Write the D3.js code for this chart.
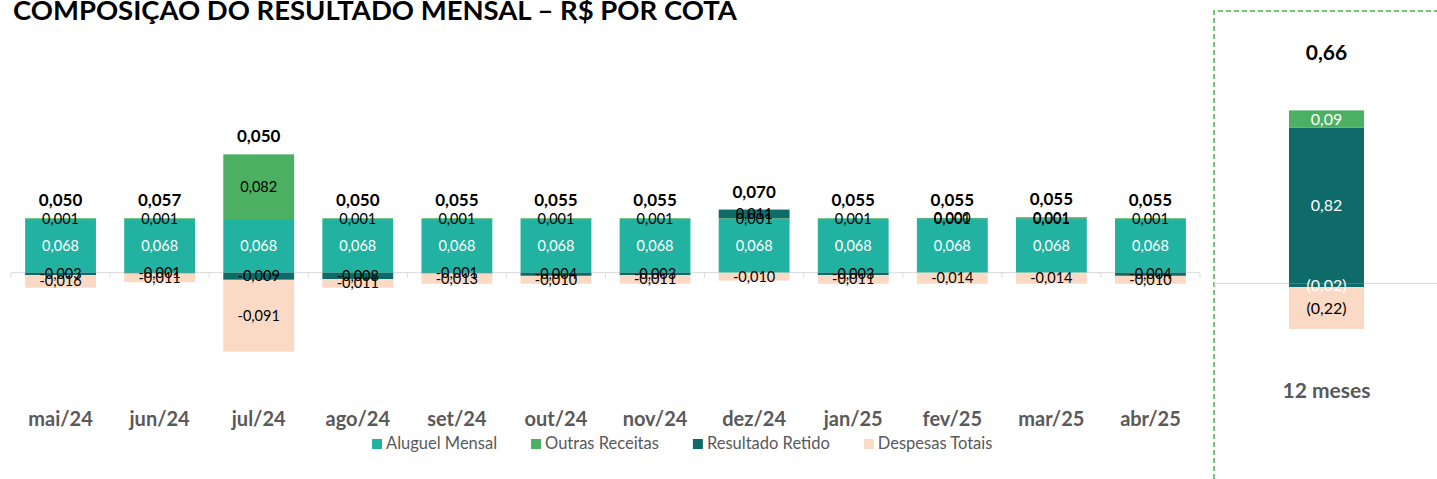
<!DOCTYPE html>
<html>
<head>
<meta charset="utf-8">
<script src="https://cdn.jsdelivr.net/npm/d3@7"></script>
<style>
    body { margin: 0; background: #fff; }
    text { font-family: Lato, 'Noto Sans', sans-serif; }
</style>
</head>
<body>
<svg id="chart" width="1437" height="479"></svg>
<script>
const months = ["mai/24", "jun/24", "jul/24", "ago/24", "set/24", "out/24", "nov/24", "dez/24", "jan/25", "fev/25", "mar/25", "abr/25"];
const seriesNames = ["Aluguel Mensal", "Outras Receitas", "Resultado Retido", "Despesas Totais"];

const aluguel = [0.068, 0.068, 0.068, 0.068, 0.068, 0.068, 0.068, 0.068, 0.068, 0.068, 0.068, 0.068];
const outras = [0.001, 0.001, 0.082, 0.001, 0.001, 0.001, 0.001, 0.001, 0.001, 0.001, 0.001, 0.001];
const retido = [-0.003, -0.001, -0.009, -0.008, -0.001, -0.004, -0.003, 0.011, -0.003, 0.0004, 0.001, -0.004];
const despesas = [-0.016, -0.011, -0.091, -0.011, -0.013, -0.010, -0.011, -0.010, -0.011, -0.014, -0.014, -0.010];
const totais = [0.050, 0.057, 0.050, 0.050, 0.055, 0.055, 0.055, 0.070, 0.055, 0.055, 0.055, 0.055];

// 12 month summary panel
const anoLabel = "12 meses";
const anoValores = [0.82, 0.09, -0.02, -0.22];
const anoTotal = 0.66;

const colors = ["#22b2a2", "#4cb062", "#0e6b69", "#fadac4"];
const anoColors = ["#0e6b69", "#4cb062", "#0e6b69", "#fadac4"];
const labelColors = ["#ffffff", "#000000", "#000000", "#000000"];
const anoLabelColors = ["#ffffff", "#ffffff", "#ffffff", "#000000"];

const locale = d3.formatLocale({ decimal: ",", thousands: ".", grouping: [3], currency: ["R$", ""], minus: "-" });
const fmt3 = locale.format(".3f");
const fmt2 = locale.format("(.2f");

let svg = d3.select("#chart");

// title, fitted to the reference width
let title = svg.append("text")
    .attr("x", 13)
    .attr("y", 20)
    .attr("font-weight", 700)
    .attr("font-size", 28)
    .attr("fill", "#000")
    .text("COMPOSIÇÃO DO RESULTADO MENSAL – R$ POR COTA");
let tw = title.node().getComputedTextLength();
title.attr("font-size", 28 * 724 / tw);

// ---------- monthly chart ----------
let x = d3.scaleBand()
    .domain(months)
    .range([11, 1200])
    .paddingInner(0.285)
    .paddingOuter(0.1425);

let y = d3.scaleLinear()
    .domain([-0.1, 0.1])
    .range([351.6, 193.8]);

let rows = months.map((m, i) => ({
    month: m,
    [seriesNames[0]]: aluguel[i],
    [seriesNames[1]]: outras[i],
    [seriesNames[2]]: retido[i],
    [seriesNames[3]]: despesas[i]
}));

let stacked = d3.stack()
    .keys(seriesNames)
    .offset(d3.stackOffsetDiverging)(rows);

// zero line + boundary ticks
let axisG = svg.append("g").attr("id", "axis-g");
axisG.append("line")
    .attr("x1", x.range()[0]).attr("x2", x.range()[1])
    .attr("y1", y(0)).attr("y2", y(0))
    .attr("stroke", "#d9d9d9").attr("stroke-width", 1);
axisG.selectAll(".tick-mark")
    .data(d3.range(months.length + 1))
    .enter().append("line")
    .classed("tick-mark", true)
    .attr("x1", i => x.range()[0] + i * x.step())
    .attr("x2", i => x.range()[0] + i * x.step())
    .attr("y1", y(0))
    .attr("y2", y(0) + 5)
    .attr("stroke", "#d9d9d9");

let barsG = svg.append("g").attr("id", "bars-g");
stacked.forEach((layer, k) => {
    barsG.selectAll(".bar-" + k)
        .data(layer)
        .enter().append("rect")
        .classed("bar-" + k, true)
        .attr("x", d => x(d.data.month))
        .attr("width", x.bandwidth())
        .attr("y", d => y(Math.max(d[0], d[1])))
        .attr("height", d => Math.abs(y(d[0]) - y(d[1])))
        .attr("fill", colors[k]);
});

let labelsG = svg.append("g").attr("id", "labels-g");
stacked.forEach((layer, k) => {
    labelsG.selectAll(".lbl-" + k)
        .data(layer)
        .enter().append("text")
        .classed("lbl-" + k, true)
        .attr("x", d => x(d.data.month) + x.bandwidth() / 2)
        .attr("y", d => y((d[0] + d[1]) / 2))
        .attr("dy", "0.35em")
        .attr("text-anchor", "middle")
        .attr("font-size", 14.5)
        .attr("fill", labelColors[k])
        .text(d => fmt3(d.data[layer.key]));
});

// totals above the positive stack
let tops = months.map((m, i) => d3.max(stacked, layer => layer[i][1]));
labelsG.selectAll(".total-lbl")
    .data(months)
    .enter().append("text")
    .classed("total-lbl", true)
    .attr("x", m => x(m) + x.bandwidth() / 2)
    .attr("y", (m, i) => y(tops[i]) - 12)
    .attr("text-anchor", "middle")
    .attr("font-size", 17)
    .attr("font-weight", 700)
    .attr("fill", "#000")
    .text((m, i) => fmt3(totais[i]));

// month names
svg.append("g").selectAll(".month-lbl")
    .data(months)
    .enter().append("text")
    .classed("month-lbl", true)
    .attr("x", m => x(m) + x.bandwidth() / 2)
    .attr("y", 426)
    .attr("text-anchor", "middle")
    .attr("font-size", 20)
    .attr("font-weight", 700)
    .attr("fill", "#595959")
    .text(m => m);

// legend
let legendG = svg.append("g").attr("id", "legend-g");
let lx = 372;
seriesNames.forEach((name, k) => {
    legendG.append("rect")
        .attr("x", lx).attr("y", 439)
        .attr("width", 10).attr("height", 10)
        .attr("fill", colors[k]);
    let t = legendG.append("text")
        .attr("x", lx + 14)
        .attr("y", 449)
        .attr("font-size", 16.5)
        .attr("fill", "#595959")
        .text(name);
    lx += 14 + t.node().getComputedTextLength() + 34;
});

// ---------- 12 month panel ----------
let panelG = svg.append("g").attr("id", "panel-g");

panelG.append("path")
    .attr("d", "M1214,479V11H1437")
    .attr("fill", "none")
    .attr("stroke", "#4cb050")
    .attr("stroke-width", 1.5)
    .attr("stroke-dasharray", "5,3");

let xa = d3.scaleBand()
    .domain([anoLabel])
    .range([1214, 1439])
    .paddingInner(0)
    .paddingOuter(1);

let ya = d3.scaleLinear()
    .domain([-0.3, 0.9])
    .range([283.3 + 0.3 * 190, 283.3 - 0.9 * 190]);

panelG.append("line")
    .attr("x1", 1214).attr("x2", 1437)
    .attr("y1", ya(0)).attr("y2", ya(0))
    .attr("stroke", "#d9d9d9");
panelG.append("line")
    .attr("x1", 1215).attr("x2", 1215)
    .attr("y1", ya(0)).attr("y2", ya(0) + 5)
    .attr("stroke", "#d9d9d9");

let anoRow = { month: anoLabel };
seriesNames.forEach((s, k) => anoRow[s] = anoValores[k]);
let anoStack = d3.stack().keys(seriesNames).offset(d3.stackOffsetDiverging)([anoRow]);

anoStack.forEach((layer, k) => {
    let d = layer[0];
    panelG.append("rect")
        .attr("x", xa(anoLabel))
        .attr("width", xa.bandwidth())
        .attr("y", ya(Math.max(d[0], d[1])))
        .attr("height", Math.abs(ya(d[0]) - ya(d[1])))
        .attr("fill", anoColors[k]);
});
anoStack.forEach((layer, k) => {
    let d = layer[0];
    panelG.append("text")
        .attr("x", xa(anoLabel) + xa.bandwidth() / 2)
        .attr("y", ya((d[0] + d[1]) / 2))
        .attr("dy", "0.35em")
        .attr("text-anchor", "middle")
        .attr("font-size", 16)
        .attr("fill", anoLabelColors[k])
        .text(fmt2(anoValores[k]));
});

panelG.append("text")
    .attr("x", xa(anoLabel) + xa.bandwidth() / 2)
    .attr("y", 60)
    .attr("text-anchor", "middle")
    .attr("font-size", 21)
    .attr("font-weight", 700)
    .attr("fill", "#000")
    .text(fmt2(anoTotal));

panelG.append("text")
    .attr("x", xa(anoLabel) + xa.bandwidth() / 2)
    .attr("y", 398)
    .attr("text-anchor", "middle")
    .attr("font-size", 21)
    .attr("font-weight", 700)
    .attr("fill", "#595959")
    .text(anoLabel);
</script>
</body>
</html>
